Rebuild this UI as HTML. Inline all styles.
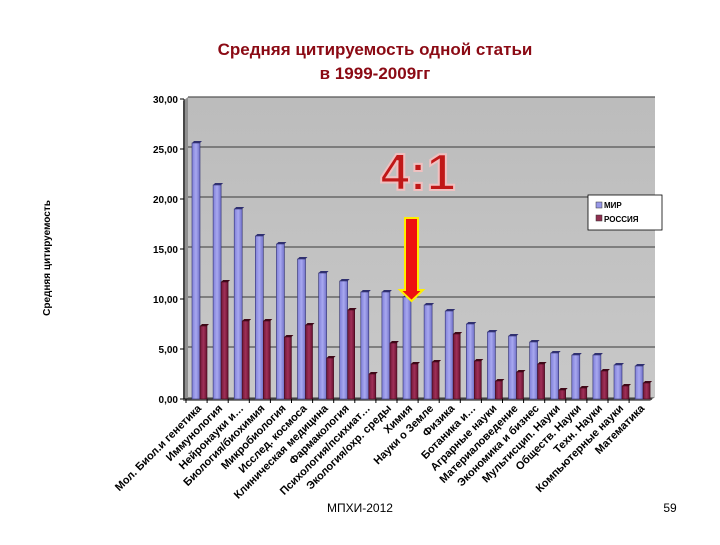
<!DOCTYPE html>
<html><head><meta charset="utf-8"><style>
body{margin:0;background:#fff;width:720px;height:540px;overflow:hidden;font-family:"Liberation Sans",sans-serif}
</style></head><body>
<svg id="c" width="720" height="540" xmlns="http://www.w3.org/2000/svg">
<defs>
<linearGradient id="wall" x1="0" x2="0" y1="0" y2="1"><stop offset="0" stop-color="#bcbcbc"/><stop offset="1" stop-color="#c8c8c8"/></linearGradient>
<linearGradient id="bl" x1="0" x2="1"><stop offset="0" stop-color="#8080d8"/><stop offset="0.5" stop-color="#a8a8f0"/><stop offset="1" stop-color="#7070c8"/></linearGradient>
<linearGradient id="rd" x1="0" x2="1"><stop offset="0" stop-color="#701838"/><stop offset="0.5" stop-color="#a03058"/><stop offset="1" stop-color="#681030"/></linearGradient>
</defs>
<text x="375" y="55" text-anchor="middle" font-size="17" font-weight="bold" fill="#8b0a14">Средняя цитируемость одной статьи</text>
<text x="375" y="79" text-anchor="middle" font-size="17" font-weight="bold" fill="#8b0a14">в 1999-2009гг</text>
<text transform="translate(50,258) rotate(-90)" text-anchor="middle" font-size="10" font-weight="bold" fill="#000">Средняя цитируемость</text>
<rect x="188" y="97" width="467" height="300" fill="url(#wall)"/>
<polygon points="183,101 188,97 188,397 183,401" fill="#909090"/>
<polygon points="183,401 188,397 655,397 650,401" fill="#808080"/>
<g id="grid"></g><g id="bars"></g><g id="xl"></g>
<text x="418" y="190" text-anchor="middle" font-size="52" font-weight="bold" fill="#c01818" stroke="#f0c0c0" stroke-width="2">4:1</text>
<polygon points="405,218 418,218 418,290 423,290 411.5,301 400,290 405,290" fill="#ee1010" stroke="#ffee00" stroke-width="2"/>
<g>
<rect x="588" y="195" width="74" height="35" fill="#fff" stroke="#000" stroke-width="0.8"/>
<rect x="596" y="202" width="6" height="6" fill="#9898e8" stroke="#333" stroke-width="0.5"/>
<text x="604" y="208" font-size="8" font-weight="bold">МИР</text>
<rect x="596" y="215" width="6" height="6" fill="#903050" stroke="#333" stroke-width="0.5"/>
<text x="604" y="222" font-size="8" font-weight="bold">РОССИЯ</text>
</g>
<text x="360" y="512" text-anchor="middle" font-size="12">МПХИ-2012</text>
<text x="670" y="512" text-anchor="middle" font-size="12">59</text>
</svg>
<script>
const categories=["Мол. Биол.и генетика","Иммунология","Нейронауки и…","Биология/биохимия","Микробиология","Исслед. космоса","Клиническая медицина","Фармакология","Психология/психиат…","Экология/охр. среды","Химия","Науки о Земле","Физика","Ботаника и…","Аграрные науки","Материаловедение","Экономика и бизнес","Мультисцип. Науки","Обществ. Науки","Техн. Науки","Компьютерные науки","Математика"];
const world=[25.6,21.4,19.0,16.3,15.5,14.0,12.6,11.8,10.7,10.7,10.2,9.4,8.8,7.5,6.7,6.3,5.7,4.6,4.4,4.4,3.4,3.3];
const russia=[7.3,11.7,7.8,7.8,6.2,7.4,4.1,8.9,2.5,5.6,3.5,3.7,6.5,3.8,1.8,2.7,3.5,0.9,1.1,2.8,1.3,1.6];
const yTicks=[0,5,10,15,20,25,30];
const yTickLabels=["0,00","5,00","10,00","15,00","20,00","25,00","30,00"];
const NS="http://www.w3.org/2000/svg";
const y=v=>399-v*10;
const x0=186,cw=21.1;
const cx=i=>x0+cw*i;
function mk(t,a,p){const e=document.createElementNS(NS,t);for(const k in a)e.setAttribute(k,a[k]);p.appendChild(e);return e;}
const g=document.getElementById('grid'),b=document.getElementById('bars'),xl=document.getElementById('xl');
yTicks.forEach((v,i)=>{
 if(v>0){const l=mk('line',{x1:188,x2:655,y1:y(v)-2,y2:y(v)-2,stroke:'#555','stroke-width':1.2},g);
 
 }
 const t=mk('text',{x:178,y:y(v)+4,'text-anchor':'end','font-size':10,'font-weight':'bold'},g);
 t.textContent=yTickLabels[i];
 
 
 mk('line',{x1:180,x2:184,y1:y(v),y2:y(v),stroke:'#000'},g);
});
mk('line',{x1:184,x2:184,y1:y(30),y2:y(0),stroke:'#000'},g);
mk('line',{x1:184,x2:652,y1:y(0),y2:y(0),stroke:'#000'},g);
categories.forEach((c,i)=>{
 const bx=cx(i)+6;
 const r1=mk('rect',{x:bx,y:y(world[i]),width:8,height:world[i]*10,fill:'url(#bl)',stroke:'#303070','stroke-width':0.6},b);
 
 
 mk('polygon',{points:`${bx},${y(world[i])} ${bx+2},${y(world[i])-2} ${bx+10},${y(world[i])-2} ${bx+8},${y(world[i])}`,fill:'#303070'},b);
 const r2=mk('rect',{x:bx+8,y:y(russia[i]),width:7,height:russia[i]*10,fill:'url(#rd)',stroke:'#400818','stroke-width':0.6},b);
 
 
 mk('polygon',{points:`${bx+8},${y(russia[i])} ${bx+10},${y(russia[i])-2} ${bx+17},${y(russia[i])-2} ${bx+15},${y(russia[i])}`,fill:'#400818'},b);
 mk('line',{x1:cx(i),x2:cx(i),y1:y(0),y2:y(0)+4,stroke:'#000'},g);
 const tx=cx(i)+16,ty=409;
 const t=mk('text',{x:tx,y:ty,'text-anchor':'end','font-size':11,'font-weight':'bold',transform:`rotate(-45 ${tx} ${ty})`},xl);
 t.textContent=c;
 
 
});
</script>
</body></html>
